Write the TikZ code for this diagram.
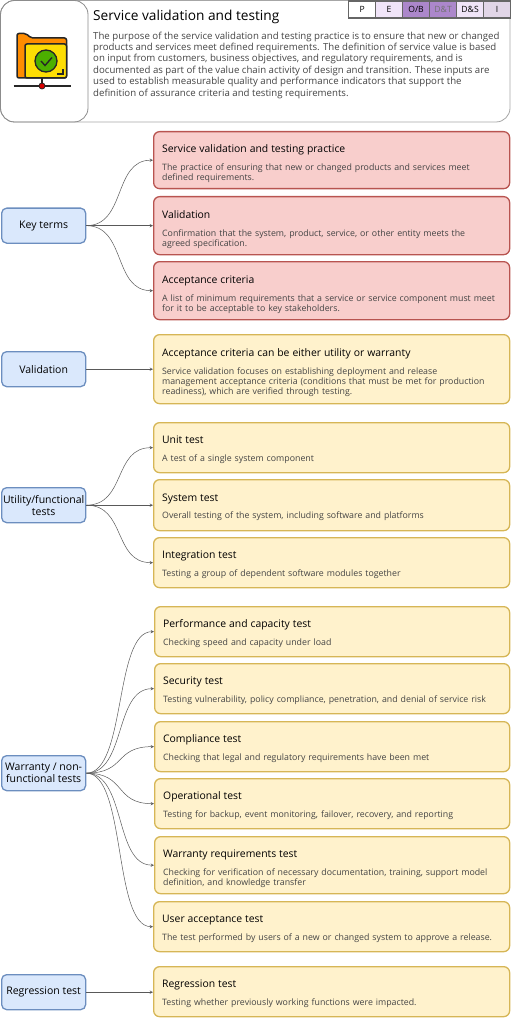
\documentclass[tikz,border=0pt]{standalone}
\usepackage{fontspec}
\setmainfont{Open Sans}
\usetikzlibrary{positioning}
\definecolor{redfill}{HTML}{F8CECC}
\definecolor{redline}{HTML}{B85450}
\definecolor{yellowfill}{HTML}{FFF2CC}
\definecolor{yellowline}{HTML}{D6B656}
\definecolor{bluefill}{HTML}{DAE8FC}
\definecolor{blueline}{HTML}{6C8EBF}
\definecolor{tabpale}{HTML}{F0E4F8}
\definecolor{tabmid}{HTML}{E1D5E7}
\definecolor{tabdark}{HTML}{AC87CB}
\definecolor{bodygrey}{HTML}{444444}
\newcommand{\headfont}{\fontsize{10.4}{13}\selectfont\color{black}\rule{0pt}{12pt}}
\newcommand{\headfontlong}{\fontsize{10.4}{13}\selectfont\color{black}\rule{0pt}{15pt}}
\tikzset{
  textbox/.style={rectangle, rounded corners=6, line width=1.3pt, anchor=north west, text width=339, inner xsep=8.5, inner ysep=0, align=left, font=\fontsize{8.8}{10}\selectfont, text=bodygrey},
  redbox/.style={textbox, draw=redline, fill=redfill},
  yellowbox/.style={textbox, draw=yellowline, fill=yellowfill},
  topicbox/.style={rectangle, rounded corners=5, line width=1.3pt, draw=blueline, fill=bluefill, anchor=north west, minimum width=84, minimum height=35, inner sep=0, align=center, font=\fontsize{10.5}{12}\selectfont},
  tabbox/.style={rectangle, draw=black!60, line width=1.2pt, anchor=north west, minimum width=27, minimum height=17, inner sep=0, font=\fontsize{8.6}{10}\selectfont},
  link/.style={->, >=stealth, draw=black!65, line width=0.5pt},
}
\begin{document}
\begin{tikzpicture}[x=1pt, y=-1pt]
  \useasboundingbox (0,0) rectangle (511,1024);
  % header
  \draw[black!35, line width=0.8pt, rounded corners=14] (0.5,0.5) rectangle (510,122);
  \draw[black!45, line width=0.8pt, rounded corners=14] (0.5,0.5) rectangle (88,122);
  \node[anchor=west, inner sep=0, font=\fontsize{13.7}{16}\selectfont] (maintitle) at (93,16.5) {Service validation and testing};
  \node[anchor=north west, inner sep=0, align=left, text=bodygrey, font=\fontsize{9.65}{11.45}\selectfont] (maintext) at (93,31.5) {The purpose of the service validation and testing practice is to ensure that new or changed\\products and services meet defined requirements. The definition of service value is based\\on input from customers, business objectives, and regulatory requirements, and is\\documented as part of the value chain activity of design and transition. These inputs are\\used to establish measurable quality and performance indicators that support the\\definition of assurance criteria and testing requirements.};
  % folder icon
  \draw[black!85, line width=1.5pt, fill=orange!90!yellow, rounded corners=2] (17,78) -- (17,33.5) -- (26,33.5) -- (31,38) -- (66.5,38) -- (66.5,78) -- cycle;
  \draw[black!85, line width=1.5pt, fill=yellow!80!orange, rounded corners=2] (25,78) -- (25,44) -- (66.5,44) -- (66.5,78) -- cycle;
  \draw[black!85, line width=1.3pt, fill=green!55!black!70!yellow] (46,61) circle (11);
  \draw[black!85, line width=1.4pt] (41,61) -- (45,65.5) -- (52,57.5);
  \draw[black!85, line width=1.2pt] (57,74) -- (63,74) -- (63,69);
  \draw[black!85, line width=1.2pt] (42,78) -- (42,86);
  \draw[black!85, line width=1.2pt] (13.5,86) -- (71,86);
  \draw[black!85, line width=0.8pt, fill=red!85!black] (42,86) circle (3);
  % tabs
  \node[tabbox, fill=white] (tabP) at (348,0.5) {P};
  \node[tabbox, fill=tabpale] (tabE) at (375,0.5) {E};
  \node[tabbox, fill=tabdark] (tabOB) at (402,0.5) {O/B};
  \node[tabbox, fill=tabdark, text=black!55] (tabDT) at (429,0.5) {D\&T};
  \node[tabbox, fill=tabpale] (tabDS) at (456,0.5) {D\&S};
  \node[tabbox, fill=tabmid] (tabI) at (483,0.5) {I};
  % key terms
  \node[topicbox] (keyterms) at (1,207.5) {Key terms};
  \node[redbox, minimum height=57] (practice) at (153,131) {{\headfontlong Service validation and testing practice}\\[8pt]The practice of ensuring that new or changed products and services meet\\defined requirements.};
  \node[redbox, minimum height=58] (validation) at (153,196) {{\headfontlong Validation}\\[8pt]Confirmation that the system, product, service, or other entity meets the\\agreed specification.};
  \node[redbox, minimum height=58] (criteria) at (153,261) {{\headfontlong Acceptance criteria}\\[8pt]A list of minimum requirements that a service or service component must meet\\for it to be acceptable to key stakeholders.};
  \draw[link] (keyterms.east) .. controls +(40,0) and +(-40,0) .. (practice.west);
  \draw[link] (keyterms.east) -- (validation.west);
  \draw[link] (keyterms.east) .. controls +(40,0) and +(-40,0) .. (criteria.west);
  % validation
  \node[topicbox] (checking) at (1,351) {Validation};
  \node[yellowbox, minimum height=69] (utility) at (153,334) {{\headfontlong Acceptance criteria can be either utility or warranty}\\[8pt]Service validation focuses on establishing deployment and release\\management acceptance criteria (conditions that must be met for production\\readiness), which are verified through testing.};
  \draw[link] (checking.east) -- (checking.east -| utility.west);
  % utility tests
  \node[topicbox] (functional) at (1,487) {Utility/functional\\tests};
  \node[yellowbox, minimum height=50] (unit) at (153,422) {{\headfont Unit test}\\[7.5pt]A test of a single system component};
  \node[yellowbox, minimum height=51] (system) at (153,479) {{\headfont System test}\\[7.5pt]Overall testing of the system, including software and platforms};
  \node[yellowbox, minimum height=50] (integration) at (153,537) {{\headfont Integration test}\\[7.5pt]Testing a group of dependent software modules together};
  \draw[link] (functional.east) .. controls +(40,0) and +(-40,0) .. (unit.west);
  \draw[link] (functional.east) -- (system.west);
  \draw[link] (functional.east) .. controls +(40,0) and +(-40,0) .. (integration.west);
  % warranty tests
  \node[topicbox] (warranty) at (1,755) {Warranty / non-\\functional tests};
  \node[yellowbox, text width=338, minimum height=50] (performance) at (154,606) {{\headfont Performance and capacity test}\\[7.5pt]Checking speed and capacity under load};
  \node[yellowbox, text width=338, minimum height=50] (security) at (154,663) {{\headfont Security test}\\[7.5pt]Testing vulnerability, policy compliance, penetration, and denial of service risk};
  \node[yellowbox, text width=338, minimum height=50] (compliance) at (154,721) {{\headfont Compliance test}\\[7.5pt]Checking that legal and regulatory requirements have been met};
  \node[yellowbox, text width=338, minimum height=50] (operational) at (154,778) {{\headfont Operational test}\\[7.5pt]Testing for backup, event monitoring, failover, recovery, and reporting};
  \node[yellowbox, text width=338, minimum height=57] (requirements) at (154,836) {{\headfontlong Warranty requirements test}\\[8pt]Checking for verification of necessary documentation, training, support model\\definition, and knowledge transfer};
  \node[yellowbox, minimum height=50] (acceptance) at (153,901) {{\headfont User acceptance test}\\[7.5pt]The test performed by users of a new or changed system to approve a release.};
  \foreach \target in {performance,security,compliance,operational,requirements,acceptance}
    \draw[link] (warranty.east) .. controls +(40,0) and +(-40,0) .. (\target.west);
  % regression
  \node[topicbox] (regression) at (1,974) {Regression test};
  \node[yellowbox, minimum height=50] (impact) at (153,966) {{\headfont Regression test}\\[7.5pt]Testing whether previously working functions were impacted.};
  \draw[link] (regression.east) -- (regression.east -| impact.west);
\end{tikzpicture}
\end{document}
